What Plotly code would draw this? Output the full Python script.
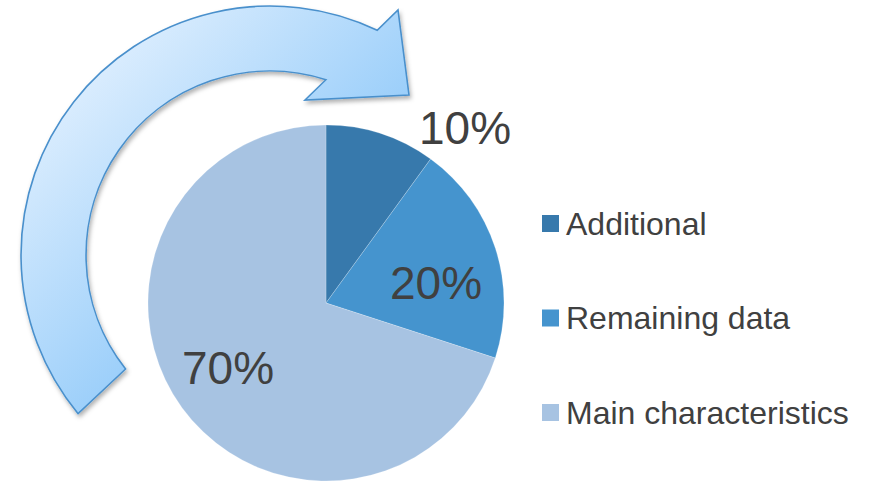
import base64
import math
import plotly.graph_objects as go

# ---- data ----
labels = ["Additional", "Remaining data", "Main characteristics"]
values = [10, 20, 70]
colors = ["#3779AC", "#4594CE", "#A7C3E2"]

W, H = 879, 484
FONT = "Liberation Sans, Arial, sans-serif"
TXT = "#404040"

def px(x):
    return x / W

def py(y):
    return 1 - y / H

# pie geometry (pixels)
cx, cy, R = 326, 303, 178

# label anchor positions (pixels) for percentage labels
label_pos = [(465, 128), (436, 283), (228, 368)]

# decorative curved arrow (pixel geometry)
acx, acy = 270, 255
R_out, R_in = 249, 184

def pt(r, deg):
    a = math.radians(deg)
    return acx + r * math.cos(a), acy + r * math.sin(a)

o_tail = pt(R_out, 140.4)
o_head = pt(R_out, -64.5)
i_head = pt(R_in, -72.3)
i_tail = pt(R_in, 141.7)
arrow_path = (f"M {o_tail[0]:.1f} {o_tail[1]:.1f} "
              f"A {R_out} {R_out} 0 0 1 {o_head[0]:.1f} {o_head[1]:.1f} "
              f"L 398 10 L 409 95 L 305 100 "
              f"L {i_head[0]:.1f} {i_head[1]:.1f} "
              f"A {R_in} {R_in} 0 0 0 {i_tail[0]:.1f} {i_tail[1]:.1f} Z")
svg = f'''<svg xmlns="http://www.w3.org/2000/svg" width="{W}" height="{H}" viewBox="0 0 {W} {H}" preserveAspectRatio="none">
<defs>
<linearGradient id="g" gradientUnits="userSpaceOnUse" x1="75" y1="75" x2="250" y2="250">
<stop offset="0" stop-color="#DDEEFE"/>
<stop offset="1" stop-color="#9CCFFA"/>
</linearGradient>
<filter id="s" x="-10%" y="-10%" width="130%" height="130%">
<feDropShadow dx="1.5" dy="3" stdDeviation="2" flood-color="#000" flood-opacity="0.3"/>
</filter>
</defs>
<path d="{arrow_path}" fill="url(#g)" stroke="#4A90CC" stroke-width="1.6" stroke-linejoin="miter" filter="url(#s)"/>
</svg>'''
src = "data:image/svg+xml;base64," + base64.b64encode(svg.encode()).decode()

fig = go.Figure()
fig.add_trace(go.Pie(
    labels=labels,
    values=values,
    sort=False,
    direction="clockwise",
    rotation=0,
    marker=dict(colors=colors, line=dict(color="rgba(255,255,255,0.35)", width=0.6)),
    textinfo="none",
    hoverinfo="label+percent",
    showlegend=False,
    domain=dict(x=[px(cx - R), px(cx + R)], y=[py(cy + R), py(cy - R)]),
))

annotations = []
total = sum(values)
for v, (lx, ly) in zip(values, label_pos):
    annotations.append(dict(
        x=px(lx), y=py(ly), xref="paper", yref="paper",
        text=f"{round(100 * v / total)}%", showarrow=False,
        xanchor="center", yanchor="middle",
        font=dict(family=FONT, size=46, color=TXT),
    ))

shapes = []
legend_y = [223.5, 318, 412.5]
for lab, col, ly in zip(labels, colors, legend_y):
    shapes.append(dict(
        type="rect", xref="paper", yref="paper",
        x0=px(542), x1=px(559), y0=py(ly + 8.5), y1=py(ly - 8.5),
        fillcolor=col, line=dict(width=0),
    ))
    annotations.append(dict(
        x=px(564), y=py(ly), xref="paper", yref="paper",
        text=lab, showarrow=False, xanchor="left", yanchor="middle",
        font=dict(family=FONT, size=32, color=TXT),
    ))

fig.update_layout(
    width=W, height=H,
    margin=dict(l=0, r=0, t=0, b=0),
    paper_bgcolor="white", plot_bgcolor="white",
    annotations=annotations,
    shapes=shapes,
    images=[dict(source=src, xref="paper", yref="paper", x=0, y=1,
                 sizex=1, sizey=1, sizing="stretch", xanchor="left",
                 yanchor="top", layer="below")],
)

fig.write_html("out.html", config={"displayModeBar": False},
               post_script="document.body.style.margin='0';document.body.style.overflow='hidden';")
